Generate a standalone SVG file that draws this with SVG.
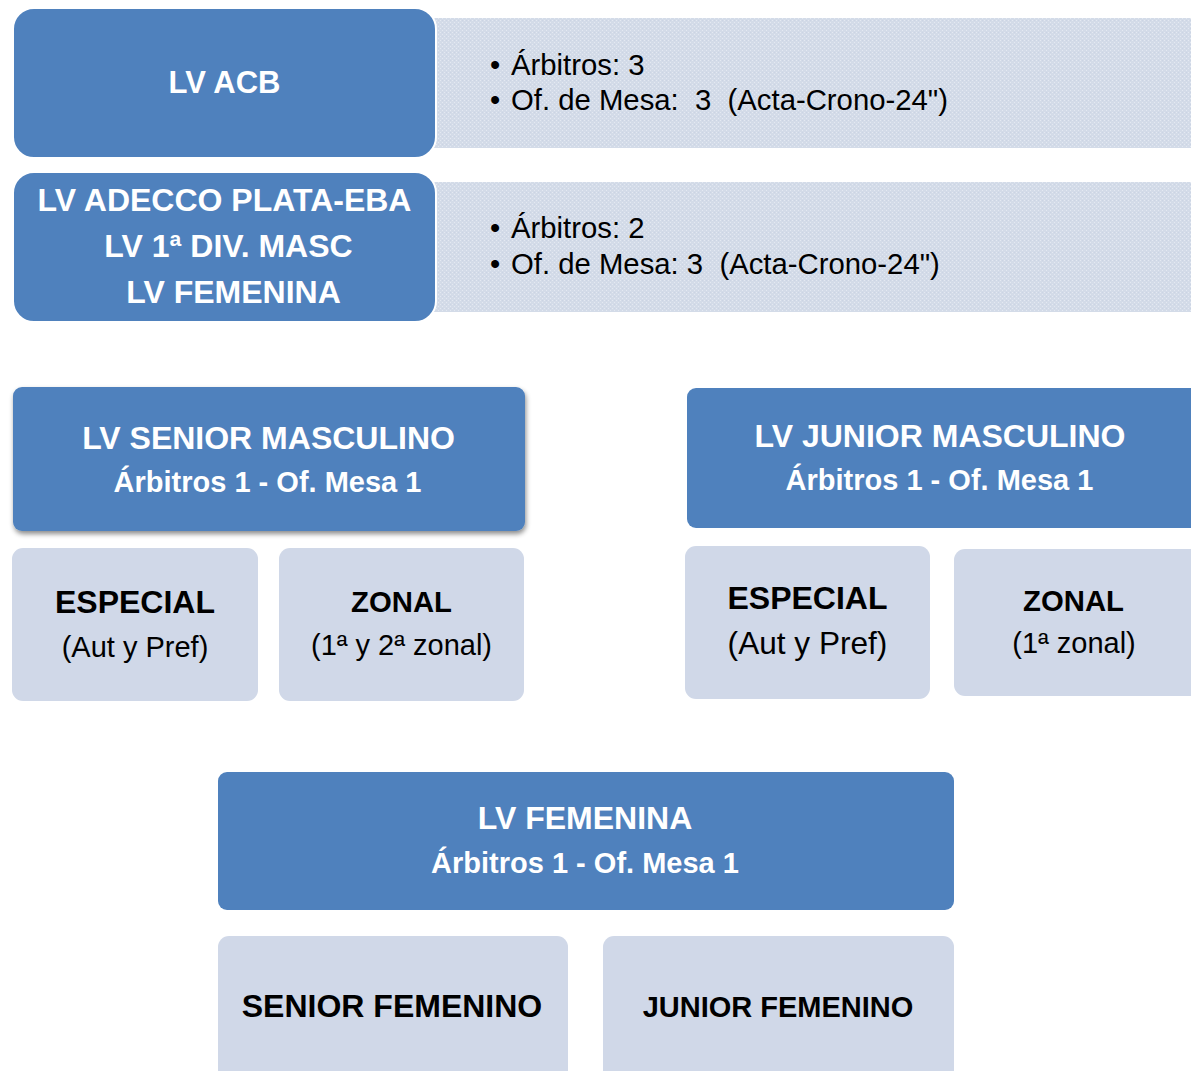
<svg xmlns="http://www.w3.org/2000/svg" width="1191" height="1071" viewBox="0 0 1191 1071">
<defs>
<pattern id="dots" width="4" height="4" patternUnits="userSpaceOnUse">
<rect width="4" height="4" fill="#D3DBE8"/>
<rect x="0" y="0" width="1" height="1" fill="#E4E9F2"/>
<rect x="2" y="2" width="1" height="1" fill="#E4E9F2"/>
<rect x="2" y="0" width="1" height="1" fill="#CBD4E4"/>
</pattern>
<filter id="shadow" x="-5%" y="-10%" width="115%" height="130%">
<feDropShadow dx="1" dy="3" stdDeviation="2.5" flood-color="#000" flood-opacity="0.45"/>
</filter>
</defs>
<style>
.blue{fill:#4F81BD}
.light{fill:#D0D8E8}
.panel{fill:url(#dots)}
.wb{stroke:#fff;stroke-width:2}
text{font-family:"Liberation Sans",Arial,sans-serif}
.h{fill:#fff;font-weight:bold;font-size:32px;text-anchor:middle}
.s{fill:#fff;font-weight:bold;font-size:29px;text-anchor:middle}
.kb{fill:#000;font-weight:bold;text-anchor:middle}
.k{fill:#000;text-anchor:middle}
.b{fill:#000;font-size:29.3px}
</style>
<g id="connectors"></g>
<g id="panel-acb">
<rect class="panel" x="420" y="18" width="790" height="130" rx="9"/>
<text class="b" x="490" y="75">•</text>
<text class="b" x="511" y="75">Árbitros: 3</text>
<text class="b" x="490" y="110">•</text>
<text class="b" x="511" y="110" xml:space="preserve">Of. de Mesa:  3  (Acta-Crono-24")</text>
</g>
<g id="node-acb">
<rect class="blue wb" x="13" y="8" width="423" height="150" rx="21"/>
<text class="h" x="224.5" y="93" style="font-size:31px">LV ACB</text>
</g>
<g id="panel-plata">
<rect class="panel" x="420" y="182" width="790" height="130" rx="9"/>
<text class="b" x="490" y="238">•</text>
<text class="b" x="511" y="238">Árbitros: 2</text>
<text class="b" x="490" y="274">•</text>
<text class="b" x="511" y="274" xml:space="preserve">Of. de Mesa: 3  (Acta-Crono-24")</text>
</g>
<g id="node-plata">
<rect class="blue wb" x="13" y="172" width="423" height="150" rx="21"/>
<text class="h" x="224.5" y="211">LV ADECCO PLATA-EBA</text>
<text class="h" x="228.5" y="257">LV 1ª DIV. MASC</text>
<text class="h" x="233.5" y="303">LV FEMENINA</text>
</g>
<g id="node-senior-masc">
<rect class="blue" x="13" y="387" width="512" height="144" rx="9" filter="url(#shadow)"/>
<text class="h" x="268.5" y="449">LV SENIOR MASCULINO</text>
<text class="s" x="267.5" y="492">Árbitros 1 - Of. Mesa 1</text>
</g>
<g id="node-sm-especial">
<rect class="light" x="12" y="548" width="246" height="153" rx="11"/>
<text class="kb" x="135" y="613" font-size="32">ESPECIAL</text>
<text class="k" x="135" y="657" font-size="29">(Aut y Pref)</text>
</g>
<g id="node-sm-zonal">
<rect class="light" x="279" y="548" width="245" height="153" rx="11"/>
<text class="kb" x="401.5" y="612" font-size="29.3">ZONAL</text>
<text class="k" x="401.5" y="655" font-size="29">(1ª y 2ª zonal)</text>
</g>
<g id="node-junior-masc">
<rect class="blue" x="687" y="388" width="520" height="140" rx="9"/>
<text class="h" x="940" y="447">LV JUNIOR MASCULINO</text>
<text class="s" x="939.5" y="490">Árbitros 1 - Of. Mesa 1</text>
</g>
<g id="node-jm-especial">
<rect class="light" x="685" y="546" width="245" height="153" rx="11"/>
<text class="kb" x="807.5" y="609" font-size="32">ESPECIAL</text>
<text class="k" x="807.5" y="654" font-size="31.6">(Aut y Pref)</text>
</g>
<g id="node-jm-zonal">
<rect class="light" x="954" y="549" width="250" height="147" rx="11"/>
<text class="kb" x="1073.5" y="611" font-size="29.3">ZONAL</text>
<text class="k" x="1074" y="653" font-size="29">(1ª zonal)</text>
</g>
<g id="node-femenina">
<rect class="blue" x="218" y="772" width="736" height="138" rx="9"/>
<text class="h" x="585" y="829">LV FEMENINA</text>
<text class="s" x="585" y="873">Árbitros 1 - Of. Mesa 1</text>
</g>
<g id="node-senior-fem">
<rect class="light" x="218" y="936" width="350" height="160" rx="11"/>
<text class="kb" x="392" y="1017" font-size="32">SENIOR FEMENINO</text>
</g>
<g id="node-junior-fem">
<rect class="light" x="603" y="936" width="351" height="160" rx="11"/>
<text class="kb" x="778" y="1017" font-size="29">JUNIOR FEMENINO</text>
</g>
</svg>
